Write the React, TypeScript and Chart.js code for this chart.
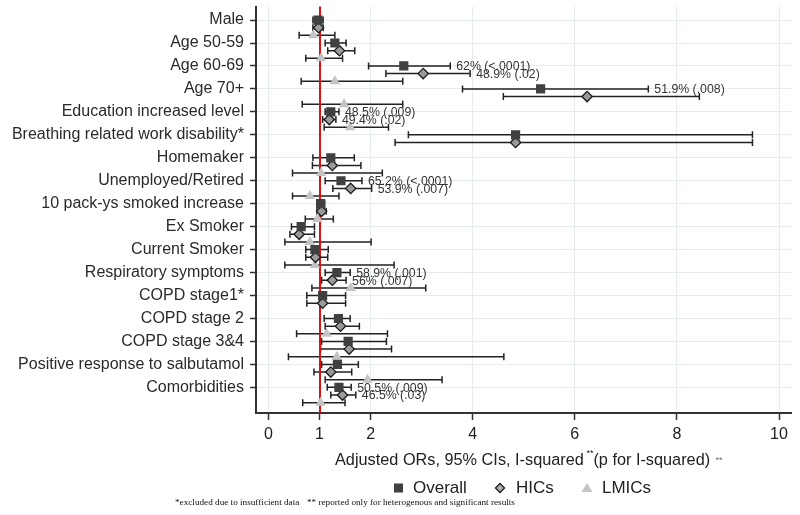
import React, { useEffect, useRef } from "react";
import { Chart, registerables } from "chart.js";

Chart.register(...registerables);

const categories = [
  "Male",
  "Age 50-59",
  "Age 60-69",
  "Age 70+",
  "Education increased level",
  "Breathing related work disability*",
  "Homemaker",
  "Unemployed/Retired",
  "10 pack-ys smoked increase",
  "Ex Smoker",
  "Current Smoker",
  "Respiratory symptoms",
  "COPD stage1*",
  "COPD stage 2",
  "COPD stage 3&4",
  "Positive response to salbutamol",
  "Comorbidities",
];

const overallOR = [0.97, 1.3, 2.65, 5.33, 1.22, 4.84, 1.22, 1.42, 1.02, 0.64, 0.91, 1.34, 1.06, 1.37, 1.56, 1.35, 1.38];
const overallLo = [0.87, 1.11, 1.96, 3.8, 1.11, 2.74, 0.87, 1.11, 0.95, 0.45, 0.73, 1.11, 0.75, 1.09, 1.04, 1.04, 1.15];
const overallHi = [1.07, 1.52, 3.56, 7.44, 1.38, 9.48, 1.68, 1.83, 1.1, 0.9, 1.17, 1.6, 1.51, 1.6, 2.31, 1.76, 1.62];

const hicsOR = [0.98, 1.39, 3.03, 6.24, 1.19, 4.84, 1.25, 1.61, 1.04, 0.6, 0.92, 1.25, 1.06, 1.41, 1.58, 1.22, 1.45];
const hicsLo = [0.87, 1.16, 2.3, 4.6, 1.06, 2.48, 0.86, 1.26, 0.95, 0.42, 0.73, 1.04, 0.75, 1.11, 1.02, 0.89, 1.22];
const hicsHi = [1.07, 1.69, 3.95, 8.44, 1.32, 9.48, 1.81, 2.02, 1.13, 0.9, 1.16, 1.52, 1.51, 1.78, 2.41, 1.63, 1.71];

const lmicsOR = [0.88, 1.03, 1.3, 1.48, 1.6, null, 1.03, 0.81, 0.96, 0.81, 0.91, 1.61, null, 1.14, 1.34, 1.94, 1.02];
const lmicsLo = [0.6, 0.73, 0.64, 0.66, 1.09, null, 0.47, 0.47, 0.72, 0.32, 0.32, 0.85, null, 0.55, 0.39, 1.11, 0.67];
const lmicsHi = [1.3, 1.45, 2.63, 2.63, 2.35, null, 2.23, 1.38, 1.27, 2.01, 2.46, 3.08, null, 2.33, 4.61, 3.4, 1.5];

const overallNote = ["", "", "62% (<.0001)", "51.9% (.008)", "48.5% (.009)", "", "", "65.2% (<.0001)", "", "", "", "58.9% (.001)", "", "", "", "", "50.5% (.009)"];
const hicsNote = ["", "", "48.9% (.02)", "", "49.4% (.02)", "", "", "53.9% (.007)", "", "", "", "56% (.007)", "", "", "", "", "46.5% (.03)"];

const xTicks = [0, 1, 2, 4, 6, 8, 10];
const seriesNames = ["Overall", "HICs", "LMICs"];
const refValue = 1;

const SANS = "'Liberation Sans', Arial, sans-serif";
const SERIF = "'Liberation Serif', 'Times New Roman', serif";

function buildPoints(or: (number | null)[], lo: (number | null)[], hi: (number | null)[], notes: string[] | null, sub: number) {
  const pts: any[] = [];
  or.forEach((v, i) => {
    if (v == null) return;
    pts.push({ x: v, y: i * 3 + sub, lo: lo[i], hi: hi[i], note: notes ? notes[i] : "" });
  });
  return pts;
}

const errorBarPlugin = {
  id: "errorBars",
  beforeDatasetsDraw(chart: any) {
    const ctx = chart.ctx;
    const xs = chart.scales.x;
    const area = chart.chartArea;
    ctx.save();
    ctx.strokeStyle = "#222222";
    ctx.lineWidth = 1.5;
    chart.data.datasets.forEach((ds: any, d: number) => {
      const meta = chart.getDatasetMeta(d);
      ds.data.forEach((p: any, j: number) => {
        const el = meta.data[j];
        if (!el) return;
        const y = el.y;
        const x1 = xs.getPixelForValue(p.lo);
        const x2 = xs.getPixelForValue(p.hi);
        ctx.beginPath();
        ctx.moveTo(x1, y);
        ctx.lineTo(x2, y);
        ctx.moveTo(x1, y - 3.5);
        ctx.lineTo(x1, y + 3.5);
        ctx.moveTo(x2, y - 3.5);
        ctx.lineTo(x2, y + 3.5);
        ctx.stroke();
      });
    });
    const rx = Math.round(xs.getPixelForValue(refValue));
    ctx.strokeStyle = "#dd1111";
    ctx.lineWidth = 2;
    ctx.beginPath();
    ctx.moveTo(rx, area.top);
    ctx.lineTo(rx, area.bottom);
    ctx.stroke();
    ctx.restore();
  },
  afterDatasetsDraw(chart: any) {
    const ctx = chart.ctx;
    const xs = chart.scales.x;
    ctx.save();
    ctx.font = `12.3px ${SANS}`;
    ctx.fillStyle = "#333333";
    ctx.textBaseline = "middle";
    ctx.textAlign = "left";
    chart.data.datasets.forEach((ds: any, d: number) => {
      const meta = chart.getDatasetMeta(d);
      ds.data.forEach((p: any, j: number) => {
        if (!p.note) return;
        const el = meta.data[j];
        ctx.fillText(p.note, xs.getPixelForValue(p.hi) + 6, el.y + 1);
      });
    });
    ctx.restore();
  },
  afterDraw(chart: any) {
    const ctx = chart.ctx;
    ctx.save();
    let x = 335;
    const ty = 461;
    ctx.fillStyle = "#222222";
    ctx.textBaseline = "middle";
    ctx.textAlign = "left";
    ctx.font = `16.3px ${SANS}`;
    const t1 = "Adjusted ORs, 95% CIs, I-squared ";
    ctx.fillText(t1, x, ty);
    x += ctx.measureText(t1).width;
    ctx.font = `9px ${SANS}`;
    ctx.fillText("**", x - 2, ty - 7);
    x += ctx.measureText("**").width - 2;
    ctx.font = `16.3px ${SANS}`;
    const t2 = "(p for I-squared)";
    ctx.fillText(t2, x, ty);
    x += ctx.measureText(t2).width;
    ctx.font = `9px ${SANS}`;
    ctx.fillStyle = "#666666";
    ctx.fillText(" **", x + 3, ty);

    const ly = 488;
    ctx.fillStyle = "#404040";
    ctx.fillRect(394, ly - 4.5, 9, 9);
    ctx.beginPath();
    ctx.moveTo(500, ly - 4.5);
    ctx.lineTo(504.5, ly);
    ctx.lineTo(500, ly + 4.5);
    ctx.lineTo(495.5, ly);
    ctx.closePath();
    ctx.fillStyle = "#b0b0b0";
    ctx.fill();
    ctx.strokeStyle = "#1a1a1a";
    ctx.lineWidth = 1.3;
    ctx.stroke();
    ctx.beginPath();
    ctx.moveTo(587, ly - 5);
    ctx.lineTo(592.5, ly + 4);
    ctx.lineTo(581.5, ly + 4);
    ctx.closePath();
    ctx.fillStyle = "#c4c4c4";
    ctx.fill();
    ctx.fillStyle = "#222222";
    ctx.font = `17px ${SANS}`;
    ctx.fillText(seriesNames[0], 413, ly);
    ctx.fillText(seriesNames[1], 516, ly);
    ctx.fillText(seriesNames[2], 602, ly);

    ctx.font = `9.2px ${SERIF}`;
    ctx.fillStyle = "#111111";
    ctx.fillText("*excluded due to insufficient data", 175, 503);
    ctx.fillText("** reported only for heterogenous and significant results", 307, 503);
    ctx.restore();
  },
};

export default function App() {
  const ref = useRef<HTMLCanvasElement | null>(null);
  useEffect(() => {
    if (!ref.current) return;
    const chart = new Chart(ref.current, {
      type: "scatter",
      data: {
        datasets: [
          {
            label: seriesNames[0],
            data: buildPoints(overallOR, overallLo, overallHi, overallNote, 0),
            pointStyle: "rect",
            pointRadius: 6.5,
            backgroundColor: "#404040",
            borderColor: "#404040",
            borderWidth: 0,
          },
          {
            label: seriesNames[1],
            data: buildPoints(hicsOR, hicsLo, hicsHi, hicsNote, 1),
            pointStyle: "rectRot",
            pointRadius: 5.2,
            backgroundColor: "#9a9a9a",
            borderColor: "#1a1a1a",
            borderWidth: 1.3,
          },
          {
            label: seriesNames[2],
            data: buildPoints(lmicsOR, lmicsLo, lmicsHi, null, 2),
            pointStyle: "triangle",
            pointRadius: 6,
            backgroundColor: "#c4c4c4",
            borderColor: "#c4c4c4",
            borderWidth: 0,
          },
        ] as any,
      },
      options: {
        animation: false,
        responsive: false,
        events: [],
        layout: { padding: { top: 6, right: 9, left: 0, bottom: 0 } },
        plugins: {
          legend: { display: false },
          tooltip: { enabled: false },
        },
        scales: {
          x: {
            type: "linear",
            min: -0.245,
            max: 10.235,
            afterBuildTicks: (scale: any) => {
              scale.ticks = xTicks.map((v) => ({ value: v }));
            },
            afterFit: (scale: any) => {
              scale.height = 102;
              scale.paddingLeft = 0;
              scale.paddingRight = 0;
            },
            ticks: {
              font: { family: SANS, size: 16 },
              color: "#222222",
              padding: 5,
              autoSkip: false,
              maxRotation: 0,
              callback: (v: any) => String(v),
            },
            grid: {
              color: "#e6ecec",
              lineWidth: 1,
              tickColor: "#333333",
              tickLength: 7,
              tickWidth: 1.5,
            },
            border: { color: "#333333", width: 2 },
          },
          y: {
            type: "linear",
            reverse: true,
            min: -1.77,
            max: 51.35,
            afterBuildTicks: (scale: any) => {
              scale.ticks = categories.map((_, i) => ({ value: i * 3 }));
            },
            afterFit: (scale: any) => {
              scale.width = 256;
              scale.paddingTop = 0;
              scale.paddingBottom = 0;
            },
            ticks: {
              font: { family: SANS, size: 16 },
              color: "#2a2a2a",
              padding: 6,
              autoSkip: false,
              callback: (v: any) => categories[Math.round(Number(v) / 3)],
            },
            grid: {
              color: "#e6ecec",
              lineWidth: 1,
              tickColor: "#333333",
              tickLength: 6,
              tickWidth: 1.5,
            },
            border: { color: "#333333", width: 2 },
          },
        },
      } as any,
      plugins: [errorBarPlugin, { id: "bg", beforeDraw: (c: any) => { const x = c.ctx; x.save(); x.fillStyle = "#ffffff"; x.fillRect(0, 0, c.width, c.height); x.restore(); } }],
    });
    return () => chart.destroy();
  }, []);
  return (
    <div style={{ position: "fixed", left: 0, top: 0, width: 800, height: 515, background: "#fff" }}>
      <canvas ref={ref} width={800} height={515} style={{ display: "block", width: 800, height: 515 }} />
    </div>
  );
}
